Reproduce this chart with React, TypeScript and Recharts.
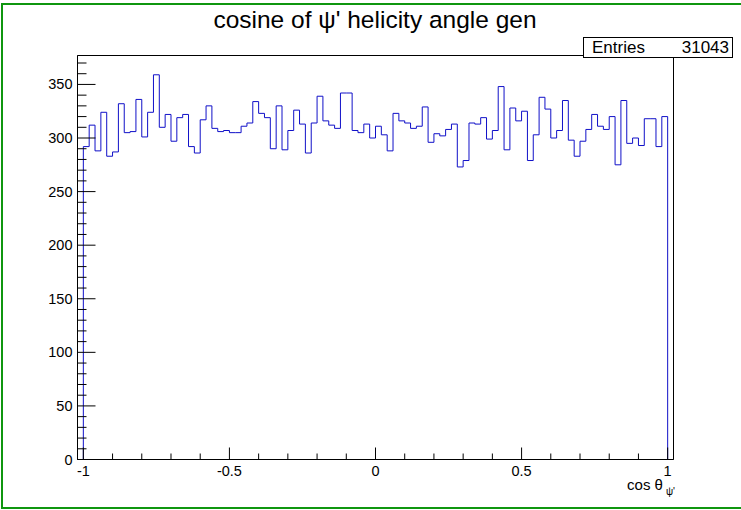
import React from 'react';
import { ComposedChart, Line, XAxis, YAxis, ReferenceArea } from 'recharts';

const X_MIN = -1.02;
const X_MAX = 1.02;
const BIN_LO = -1;
const BIN_HI = 1;
const Y_MAX = 377;

const TITLE = "cosine of \u03C8' helicity angle gen";
const ENTRIES = 31043;

const binValues = [
  292, 312, 288, 324, 283, 287, 332, 305, 306, 336,
  301, 324, 359, 310, 322, 297, 319, 322, 292, 286,
  317, 330, 309, 306, 307, 305, 305, 311, 314, 334,
  323, 319, 290, 330, 289, 307, 326, 313, 286, 314,
  339, 316, 312, 309, 342, 342, 307, 305, 313, 300,
  311, 303, 288, 323, 316, 314, 309, 311, 329, 296,
  304, 302, 308, 313, 273, 279, 314, 313, 319, 299,
  307, 348, 289, 328, 316, 325, 279, 303, 338, 327,
  300, 307, 335, 298, 283, 297, 308, 322, 311, 308,
  320, 275, 335, 295, 300, 293, 318, 318, 292, 320,
];

const xTicks = [-1, -0.9, -0.8, -0.7, -0.6, -0.5, -0.4, -0.3, -0.2, -0.1, 0, 0.1, 0.2, 0.3, 0.4, 0.5, 0.6, 0.7, 0.8, 0.9, 1];
const xMajorTicks = [-1, -0.5, 0, 0.5, 1];
const xTickLabels = ['-1', '-0.5', '0', '0.5', '1'];

const yTicks = [0, 10, 20, 30, 40, 50, 60, 70, 80, 90, 100, 110, 120, 130, 140, 150, 160, 170, 180, 190, 200, 210, 220, 230, 240, 250, 260, 270, 280, 290, 300, 310, 320, 330, 340, 350, 360, 370];
const yMajorTicks = [0, 50, 100, 150, 200, 250, 300, 350];

const nBins = binValues.length;
const binWidth = (BIN_HI - BIN_LO) / nBins;
const data = [
  { x: BIN_LO, y: 0 },
  ...binValues.map((v, i) => ({ x: BIN_LO + i * binWidth, y: v })),
  { x: BIN_HI, y: 0 },
];

const FONT = '"Liberation Sans", Arial, Helvetica, sans-serif';

// Plot frame: left 77.5, right 673.5, top 55.5, bottom 459.5
const FRAME_LEFT = 77.5;
const FRAME_BOTTOM = 459.5;

const renderXTick = (props: any) => {
  const { x, payload } = props;
  const y = FRAME_BOTTOM;
  const v = payload.value;
  const idx = xMajorTicks.findIndex((m) => Math.abs(m - v) < 1e-6);
  const major = idx >= 0;
  return (
    <g key={`xt-${v}`}>
      <line x1={x} y1={y} x2={x} y2={y - (major ? 12 : 6)} stroke="#000" strokeWidth={1} />
      {major && (
        <text x={x} y={y + 16} textAnchor="middle" fontSize={14.5} fontFamily={FONT} fill="#000">
          {xTickLabels[idx]}
        </text>
      )}
    </g>
  );
};

const renderYTick = (props: any) => {
  const { y, payload } = props;
  const x = FRAME_LEFT;
  const v = payload.value;
  const major = yMajorTicks.includes(v);
  return (
    <g key={`yt-${v}`}>
      <line x1={x} y1={y} x2={x + (major ? 18 : 9)} y2={y} stroke="#000" strokeWidth={1} />
      {major && (
        <text x={x - 5} y={y + 5} textAnchor="end" fontSize={14.5} fontFamily={FONT} fill="#000">
          {v}
        </text>
      )}
    </g>
  );
};

export default function App() {
  return (
    <div style={{ position: 'absolute', left: 0, top: 0, width: 741, height: 510, background: '#fff', overflow: 'hidden', fontFamily: FONT }}>
      <div style={{ position: 'absolute', left: 1, top: 3, width: 800, height: 502, border: '2px solid #0f960f' }} />
      <ComposedChart
        width={741}
        height={510}
        data={data}
        margin={{ top: 55.5, right: 67.5, bottom: 20.5, left: 37.5 }}
        style={{ position: 'absolute', left: 0, top: 0 }}
      >
        <XAxis
          dataKey="x"
          type="number"
          domain={[X_MIN, X_MAX]}
          ticks={xTicks}
          allowDataOverflow
          height={30}
          tickLine={false}
          axisLine={{ stroke: '#000' }}
          tick={renderXTick}
          interval={0}
        />
        <YAxis
          type="number"
          domain={[0, Y_MAX]}
          ticks={yTicks}
          allowDataOverflow
          width={40}
          tickLine={false}
          axisLine={{ stroke: '#000' }}
          tick={renderYTick}
          interval={0}
        />
        <ReferenceArea x1={X_MIN} x2={X_MAX} y1={0} y2={Y_MAX} fill="none" fillOpacity={0} stroke="#000" strokeWidth={1} />
        <Line
          dataKey="y"
          type="stepAfter"
          stroke="#1010c8"
          strokeWidth={1}
          dot={false}
          activeDot={false}
          isAnimationActive={false}
        />
      </ComposedChart>
      <div style={{ position: 'absolute', left: 0, width: 750, top: 5, textAlign: 'center', fontSize: 24.5, lineHeight: '30px', color: '#000' }}>
        {TITLE}
      </div>
      <div style={{ position: 'absolute', left: 583, top: 37, width: 148, height: 19, border: '1px solid #000', background: '#fff', fontSize: 17, lineHeight: '19px', color: '#000' }}>
        <span style={{ position: 'absolute', left: 8 }}>Entries</span>
        <span style={{ position: 'absolute', right: 3 }}>{ENTRIES}</span>
      </div>
      <div style={{ position: 'absolute', left: 560, width: 115, top: 476, textAlign: 'right', fontSize: 15, lineHeight: '18px', color: '#000', whiteSpace: 'nowrap' }}>
        cos {'\u03B8'}<sub style={{ fontSize: 10, verticalAlign: '-5px', marginLeft: 3 }}>{"\u03C8'"}</sub>
      </div>
    </div>
  );
}
